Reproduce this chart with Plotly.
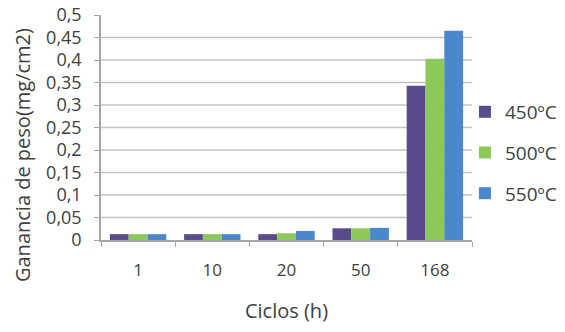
import plotly.graph_objects as go

# Weight gain per cycle count, one series per temperature
ciclos = ["1", "10", "20", "50", "168"]
series_names = ["450ºC", "500ºC", "550ºC"]
ganancia_450 = [0.013, 0.013, 0.013, 0.026, 0.343]
ganancia_500 = [0.013, 0.013, 0.015, 0.026, 0.403]
ganancia_550 = [0.013, 0.013, 0.020, 0.027, 0.465]
colores = ["#5B4A8C", "#8DC95A", "#4A87CC"]

y_max = 0.5
y_step = 0.05

font_family = "Open Sans, Lato, sans-serif"
text_color = "#404040"
axis_color = "#A6A6A6"
grid_color = "#C4C4C4"

fig = go.Figure()
for i, (name, vals) in enumerate(zip(series_names, [ganancia_450, ganancia_500, ganancia_550])):
    fig.add_trace(go.Bar(
        x=ciclos, y=vals, name=name,
        marker=dict(color=colores[i], line=dict(width=0)),
        legendgroup=name,
    ))

# Horizontal gridlines at every tick except the top of the range
n_steps = int(round(y_max / y_step))
for k in range(1, n_steps):
    fig.add_shape(type="line", xref="paper", yref="y", x0=0, x1=1,
                  y0=k * y_step, y1=k * y_step,
                  line=dict(color=grid_color, width=1.5), layer="below")

# Vertical axis title, placed beside the tick labels
fig.add_annotation(
    text="Ganancia de peso(mg/cm2)", textangle=-90,
    xref="paper", yref="paper", x=-0.21, y=0.378,
    xanchor="center", yanchor="middle", showarrow=False,
    font=dict(size=20, color=text_color, family=font_family),
)

fig.update_layout(
    width=565, height=332,
    margin=dict(l=101, r=93, t=15, b=92, autoexpand=False),
    paper_bgcolor="white", plot_bgcolor="white",
    separators=",.",
    barmode="group", bargap=0.24, bargroupgap=0,
    font=dict(family=font_family, color=text_color, size=16),
    showlegend=True,
    legend=dict(x=0.981, y=0.387, xanchor="left", yanchor="middle",
                font=dict(size=19, color=text_color),
                traceorder="grouped", tracegroupgap=13,
                itemwidth=30, bgcolor="rgba(0,0,0,0)"),
)

fig.update_xaxes(
    type="category",
    showline=True, linecolor=axis_color, linewidth=1.5,
    ticks="outside", tickson="boundaries", ticklen=5, tickcolor=axis_color,
    tickfont=dict(size=17), ticklabelstandoff=14,
    showgrid=False, zeroline=False,
    title=dict(text="Ciclos (h)", font=dict(size=20), standoff=24),
)
fig.update_yaxes(
    range=[0, y_max], dtick=y_step, tick0=0,
    showline=True, linecolor=axis_color, linewidth=1.5,
    ticks="outside", ticklen=5, tickcolor=axis_color,
    tickfont=dict(size=18), ticklabelstandoff=9,
    showgrid=False, zeroline=False,
)

fig.write_html("out.html")
